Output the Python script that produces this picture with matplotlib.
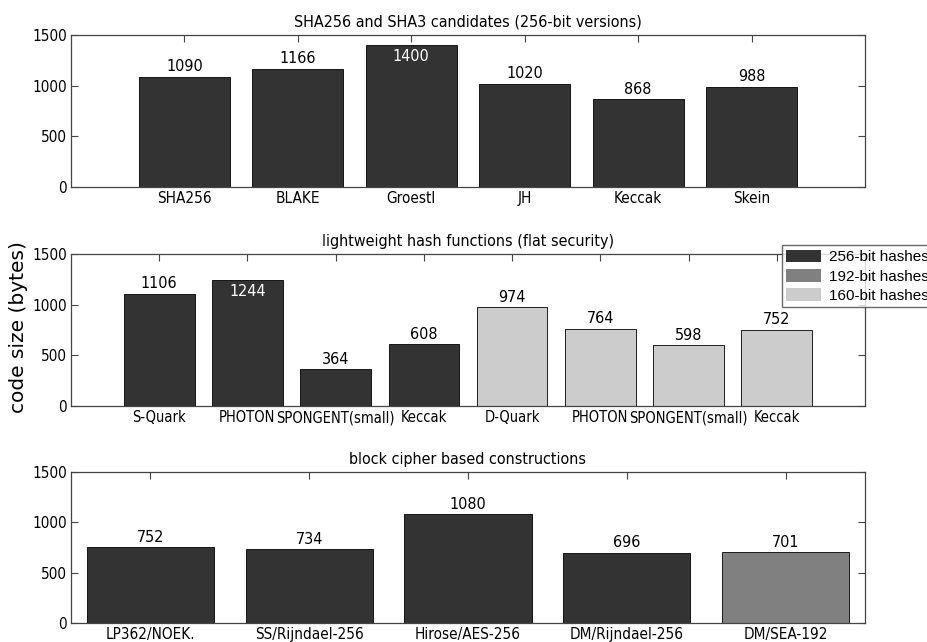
import matplotlib
matplotlib.use('Agg')
import matplotlib.pyplot as plt
from matplotlib import font_manager
from matplotlib.patches import Patch

# pick a narrow font if the system has one (reference uses a condensed Helvetica)
fonts = font_manager.fontManager.ttflist
narrow = None
for f in fonts:
    if f.name == 'Liberation Sans Narrow':
        narrow = ('Liberation Sans Narrow', 'normal')
        break
if narrow is None:
    for f in fonts:
        if f.name == 'DejaVu Sans' and str(f.stretch) in ('condensed', 'semi-condensed', '500', '300'):
            narrow = ('DejaVu Sans', 'condensed')
            break

if narrow is not None:
    plt.rcParams['font.family'] = [narrow[0], 'DejaVu Sans']
    plt.rcParams['font.stretch'] = narrow[1]
    tick_size = 11
    mid_tick_size = 10.5
else:
    plt.rcParams['font.family'] = ['Liberation Sans', 'DejaVu Sans']
    tick_size = 10.5
    mid_tick_size = 9

# data
sha_names = ['SHA256', 'BLAKE', 'Groestl', 'JH', 'Keccak', 'Skein']
sha_sizes = [1090, 1166, 1400, 1020, 868, 988]
sha_groups = ['256', '256', '256', '256', '256', '256']

lw_names = ['S-Quark', 'PHOTON', 'SPONGENT(small)', 'Keccak',
            'D-Quark', 'PHOTON', 'SPONGENT(small)', 'Keccak']
lw_sizes = [1106, 1244, 364, 608, 974, 764, 598, 752]
lw_groups = ['256', '256', '256', '256', '160', '160', '160', '160']

bc_names = ['LP362/NOEK.', 'SS/Rijndael-256', 'Hirose/AES-256', 'DM/Rijndael-256', 'DM/SEA-192']
bc_sizes = [752, 734, 1080, 696, 701]
bc_groups = ['256', '256', '256', '256', '192']

titles = ['SHA256 and SHA3 candidates (256-bit versions)',
          'lightweight hash functions (flat security)',
          'block cipher based constructions']

colors = {'256': '#333333', '192': '#808080', '160': '#cccccc'}

fig = plt.figure(figsize=(9.28, 6.42), dpi=100)
boxes = [[0.0765, 0.7087, 0.8556, 0.2368],
         [0.0765, 0.3676, 0.8556, 0.2368],
         [0.0765, 0.0296, 0.8556, 0.2352]]

panels = [(sha_names, sha_sizes, sha_groups, (0, 7)),
          (lw_names, lw_sizes, lw_groups, (0, 9)),
          (bc_names, bc_sizes, bc_groups, (0.5, 5.5))]

for i, (box, title, (names, sizes, groups, xl)) in enumerate(zip(boxes, titles, panels)):
    ax = fig.add_axes(box)
    x = list(range(1, len(names) + 1))
    ax.bar(x, sizes, width=0.8, color=[colors[g] for g in groups],
           edgecolor='black', linewidth=0.6, zorder=2)
    for xi, v in zip(x, sizes):
        if v > 1200:
            ax.text(xi, v - 40, str(v), ha='center', va='top', color='white', fontsize=tick_size + 0.5)
        else:
            ax.text(xi, v + 25, str(v), ha='center', va='bottom', color='black', fontsize=tick_size + 0.5)
    ax.set_xlim(*xl)
    ax.set_ylim(0, 1500)
    ax.set_yticks([0, 500, 1000, 1500])
    ax.set_xticks(x)
    ax.set_xticklabels(names, fontsize=mid_tick_size if i == 1 else tick_size)
    ax.tick_params(axis='y', labelsize=tick_size)
    ax.tick_params(direction='in', length=5, top=True, right=True,
                   color='#444444', pad=3)
    for s in ax.spines.values():
        s.set_color('#444444')
        s.set_linewidth(0.9)
    ax.set_title(title, fontsize=tick_size + 0.5, pad=6)

fig.text(0.02, 0.49, 'code size (bytes)', rotation=90, ha='center', va='center',
         fontsize=14.5, family=['DejaVu Sans'], stretch='normal')

handles = [Patch(facecolor=colors[g], edgecolor='none') for g in ['256', '192', '160']]
fig.legend(handles, ['256-bit hashes', '192-bit hashes', '160-bit hashes'],
           loc='upper left', bbox_to_anchor=(0.834, 0.63),
           frameon=True, fancybox=False, edgecolor='#444444', handlelength=2.3,
           handleheight=0.9, labelspacing=0.3, borderpad=0.3, handletextpad=0.5,
           prop={'family': ['Liberation Sans', 'DejaVu Sans'], 'size': 11, 'stretch': 'normal'})

fig.savefig('out.png', dpi=100)
